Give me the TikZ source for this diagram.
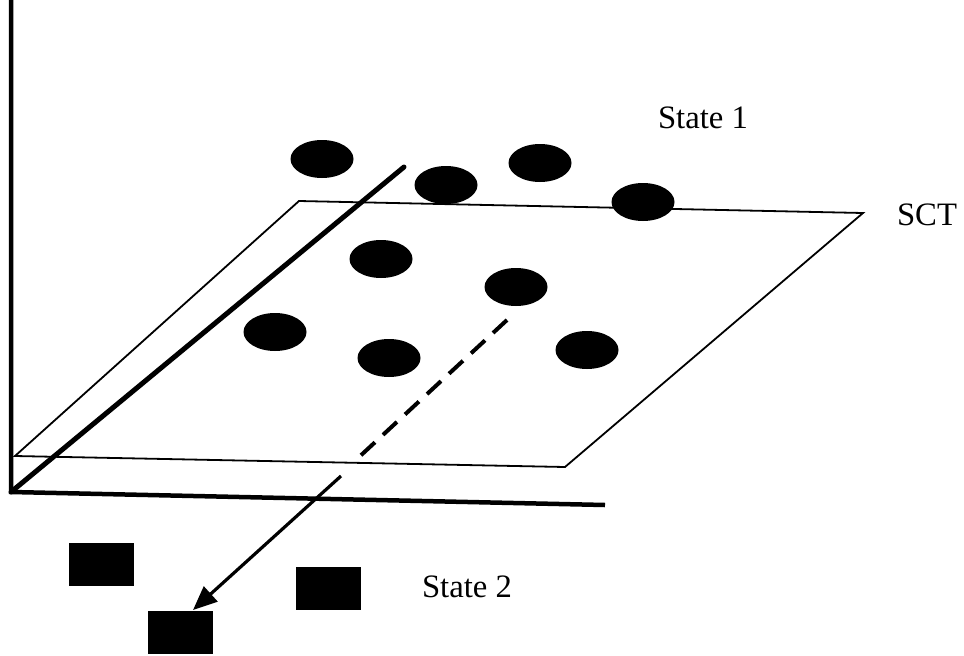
\documentclass[tikz,border=0pt]{standalone}
\usepackage{fontspec}
\setmainfont{Liberation Serif}
\usetikzlibrary{arrows.meta,shapes.geometric}
\begin{document}
\begin{tikzpicture}[x=1pt,y=-1pt,
  thinline/.style={line width=1.8pt,line join=miter},
  axisline/.style={line width=4.5pt},
  dot/.style={ellipse,fill=black,minimum width=63pt,minimum height=38pt,inner sep=0pt},
  sq/.style={rectangle,fill=black,minimum width=65pt,minimum height=43pt,inner sep=0pt},
  lbl/.style={font=\fontsize{32.7pt}{36pt}\selectfont,inner sep=0pt,anchor=base}]
\useasboundingbox (0,0) rectangle (964,656);
% plane corners
\coordinate (TL) at (299,201);
\coordinate (TR) at (863,213);
\coordinate (BR) at (565,467);
\coordinate (BL) at (15,456);
\draw[thinline] (TL) -- (TR) -- (BR) -- (BL) -- cycle;
% axes
\coordinate (O) at (11,492);
\coordinate (Ytop) at (11,0);
\coordinate (Xend) at (605,505);
\coordinate (Dend) at (404,167);
\draw[axisline] (Ytop) -- (O) -- (Xend);
\draw[axisline,line width=5pt,line cap=round] (O) -- (Dend);
% state 1 dots
\node[dot] (e1) at (322,159) {};
\node[dot] (e2) at (446,185) {};
\node[dot] (e3) at (540,163) {};
\node[dot] (e4) at (643,202) {};
\node[dot] (e5) at (381,259) {};
\node[dot] (e6) at (516,287) {};
\node[dot] (e7) at (275,332) {};
\node[dot] (e8) at (389,358) {};
\node[dot] (e9) at (587,350) {};
% state 2 squares
\node[sq] (s1) at (101.5,564) {};
\node[sq] (s2) at (180.5,632.5) {};
\node[sq] (s3) at (328.5,588.5) {};
% projection line
\coordinate (dA) at (507,320);
\coordinate (dB) at (358,458);
\coordinate (aA) at (341,476);
\coordinate (aTip) at (193,610);
\draw[line width=4pt,dash pattern=on 19pt off 11pt] (dA) -- (dB);
\draw[line width=3.2pt,-{Triangle[length=24pt,width=20pt]}] (aA) -- (aTip);
% labels
\node[lbl] (st1) at (703,128) {State 1};
\node[lbl] (sct) at (927,225) {SCT};
\node[lbl] (st2) at (467,597) {State 2};
\end{tikzpicture}
\end{document}
